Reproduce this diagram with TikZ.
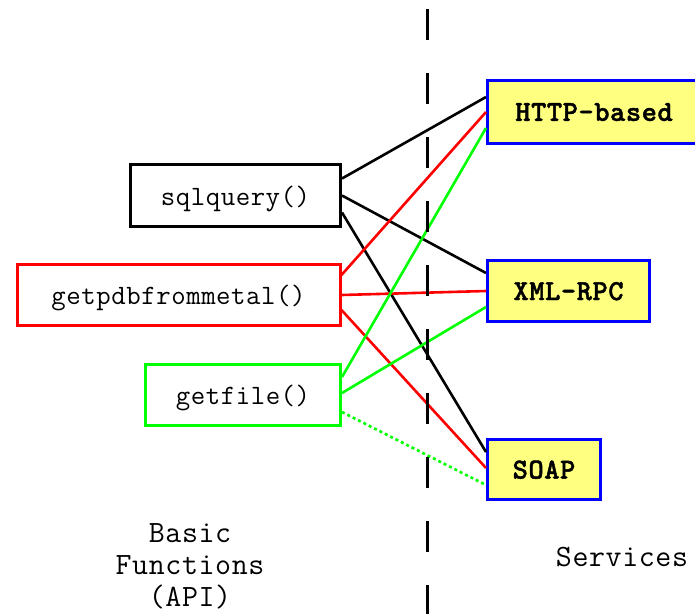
\documentclass[tikz,border=0pt]{standalone}
\usepackage{fontspec}
\newfontfamily\fnfont[LetterSpace=2]{Latin Modern Mono}
\newfontfamily\svcfont[LetterSpace=2,FakeBold=1.5]{lmmonolt10-bold.otf}
\newfontfamily\lblfont[LetterSpace=2]{Latin Modern Mono}
\definecolor{svcblue}{RGB}{0,0,255}
\definecolor{svcyellow}{RGB}{255,255,128}
\definecolor{lnred}{RGB}{255,0,0}
\definecolor{lngreen}{RGB}{0,255,0}
\begin{document}
\begin{tikzpicture}[x=1pt,y=-1pt,
  fn/.style={draw, line width=3pt, fill=white, inner sep=0pt, text depth=0pt, font=\fnfont\fontsize{28}{32}\selectfont},
  svc/.style={draw=svcblue, line width=3pt, fill=svcyellow, inner sep=0pt, text depth=0pt, font=\svcfont\fontsize{29}{33}\selectfont},
  link/.style={line width=2.6pt},
  lbl/.style={font=\lblfont\fontsize{31}{32}\selectfont, align=center, inner sep=0pt}]
\useasboundingbox (0,0) rectangle (695,614);
\clip (0,0) rectangle (695,614);
% API boxes
\node[fn, draw=black, minimum width=210pt, minimum height=62pt] (sq) at (235.5,195.5) {sqlquery()};
\node[fn, draw=lnred, minimum width=323pt, minimum height=61pt] (gp) at (178.5,295) {getpdbfrommetal()};
\node[fn, draw=lngreen, minimum width=195pt, minimum height=61pt] (gf) at (243,395) {getfile()};
% service boxes
\node[svc, minimum width=213pt, minimum height=63pt] (http) at (594,112) {HTTP-based};
\node[svc, minimum width=162pt, minimum height=61pt] (xml) at (568.5,291) {XML-RPC};
\node[svc, minimum width=113pt, minimum height=60pt] (soap) at (544,469.5) {SOAP};
% connectors
\draw[link, black] ([yshift=17pt]sq.east) -- ([yshift=15pt]http.west);
\draw[link, black] (sq.east) -- ([yshift=18pt]xml.west);
\draw[link, black] ([yshift=-17pt]sq.east) -- ([yshift=17.5pt]soap.west);
\draw[link, lnred] ([yshift=20pt]gp.east) -- (http.west);
\draw[link, lnred] (gp.east) -- (xml.west);
\draw[link, lnred] ([yshift=-15pt]gp.east) -- ([yshift=1.5pt]soap.west);
\draw[link, lngreen] ([yshift=18pt]gf.east) -- ([yshift=-16pt]http.west);
\draw[link, lngreen] ([yshift=2pt]gf.east) -- ([yshift=-16pt]xml.west);
\draw[link, lngreen, dash pattern=on 3pt off 3pt] ([yshift=-17pt]gf.east) -- ([yshift=-15.5pt]soap.west);
% divider
\coordinate (dtop) at (427,9);
\coordinate (dbot) at (427,614);
\draw[line width=3pt, black, dash pattern=on 31pt off 33pt] (dtop) -- (dbot);
% labels
\node[lbl] (api) at (190,566) {Basic\\Functions\\(API)};
\node[lbl] (svcs) at (622,557) {Services};
\end{tikzpicture}
\end{document}
